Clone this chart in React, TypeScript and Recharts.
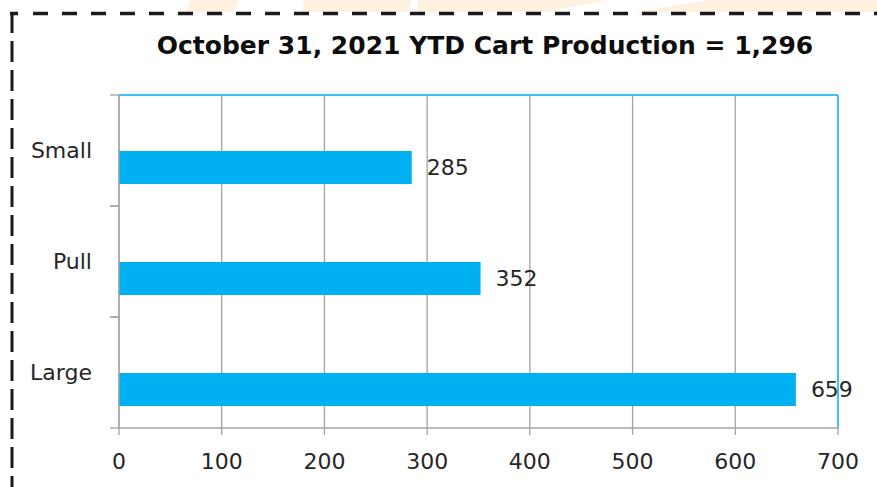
import React from 'react';
import { BarChart, Bar, XAxis, YAxis, CartesianGrid, LabelList, ReferenceLine } from 'recharts';

const categories = ['Small', 'Pull', 'Large'];
const cartCounts = [285, 352, 659];
const blankSeries: (number | null)[] = [null, null, null];
const xTicks = [0, 100, 200, 300, 400, 500, 600, 700];
const chartTitle = 'October 31, 2021 YTD Cart Production = 1,296';

const data = categories.map((name, i) => ({ name, blank: blankSeries[i], carts: cartCounts[i] }));

const W = 877;
const H = 487;
const MARGIN = { top: 94, right: 39, bottom: 0, left: 10 };
const TOP_AXIS_H = 1;
const Y_AXIS_W = 109;
const X_AXIS_H = 59;
const PLOT_LEFT = MARGIN.left + Y_AXIS_W;
const BAND = (H - MARGIN.top - TOP_AXIS_H - X_AXIS_H) / categories.length;
const FONT = '"DejaVu Sans", sans-serif';
const TEXT = '#262626';
const AXIS = '#a3a3a3';
const BLUE = '#3cc3f3';
const BAR = '#00b0f0';

const CategoryTick = (props: any) => {
  const { y, payload } = props;
  return (
    <g>
      <line x1={PLOT_LEFT - 9} x2={PLOT_LEFT} y1={y - BAND / 2} y2={y - BAND / 2} stroke={AXIS} strokeWidth={1.3} />
      <line x1={PLOT_LEFT - 9} x2={PLOT_LEFT} y1={y + BAND / 2} y2={y + BAND / 2} stroke={AXIS} strokeWidth={1.3} />
      <text x={PLOT_LEFT - 27} y={y + 7} textAnchor="end" fontFamily={FONT} fontSize={22} fill={TEXT}>
        {payload.value}
      </text>
    </g>
  );
};

export default function App() {
  return (
    <div style={{ position: 'absolute', left: 0, top: 0, width: W, height: H, background: '#fff', overflow: 'hidden' }}>
      <svg width={W} height={H} style={{ position: 'absolute', left: 0, top: 0 }}>
        <polygon points="190,0 238,0 234,12 186,12" fill="#fff1e0" />
        <polygon points="304,0 411,0 409,12 302,12" fill="#fff1e0" />
        <polygon points="418,0 607,0 547,12 417,12" fill="#fff1e0" />
        <polygon points="710,0 877,0 877,12 634,12" fill="#fff1e0" />
        <line x1={33} x2={W} y1={13.5} y2={13.5} stroke="#1a1a1a" strokeWidth={3.5} strokeDasharray="15 14" />
        <line x1={10} x2={18} y1={13.5} y2={13.5} stroke="#1a1a1a" strokeWidth={3.5} />
        <line x1={12} x2={12} y1={12} y2={H} stroke="#1a1a1a" strokeWidth={3} strokeDasharray="21 8" />
      </svg>
      <div
        style={{
          position: 'absolute',
          left: 0,
          top: 31,
          width: 970,
          textAlign: 'center',
          fontFamily: FONT,
          fontWeight: 'bold',
          fontSize: 25,
          lineHeight: '30px',
          color: '#0d0d0d',
          whiteSpace: 'nowrap',
        }}
      >
        {chartTitle}
      </div>
      <div style={{ position: 'absolute', left: 0, top: 0 }}>
        <BarChart
          width={W}
          height={H}
          data={data}
          layout="vertical"
          margin={MARGIN}
          barSize={33}
          barGap={0}
        >
          <CartesianGrid horizontal={false} vertical stroke={AXIS} strokeWidth={1.3} />
          <XAxis
            type="number"
            domain={[0, 700]}
            ticks={xTicks}
            interval={0}
            height={X_AXIS_H}
            tickSize={7}
            tickMargin={18}
            axisLine={{ stroke: AXIS, strokeWidth: 1.3 }}
            tickLine={{ stroke: AXIS, strokeWidth: 1.3 }}
            tick={{ fontFamily: FONT, fontSize: 22, fill: TEXT }}
          />
          <XAxis
            xAxisId="top"
            orientation="top"
            type="number"
            domain={[0, 700]}
            height={TOP_AXIS_H}
            tick={false}
            tickLine={false}
            axisLine={{ stroke: BLUE, strokeWidth: 2 }}
          />
          <YAxis
            type="category"
            dataKey="name"
            width={Y_AXIS_W}
            tickLine={false}
            axisLine={{ stroke: AXIS, strokeWidth: 1.3 }}
            tick={<CategoryTick />}
            interval={0}
          />
          <ReferenceLine x={700} stroke={BLUE} strokeWidth={2} />
          <Bar dataKey="blank" fill="transparent" isAnimationActive={false} />
          <Bar dataKey="carts" fill={BAR} isAnimationActive={false}>
            <LabelList
              dataKey="carts"
              position="right"
              offset={15}
              fontFamily={FONT}
              fontSize={22}
              fill={TEXT}
            />
          </Bar>
        </BarChart>
      </div>
    </div>
  );
}
